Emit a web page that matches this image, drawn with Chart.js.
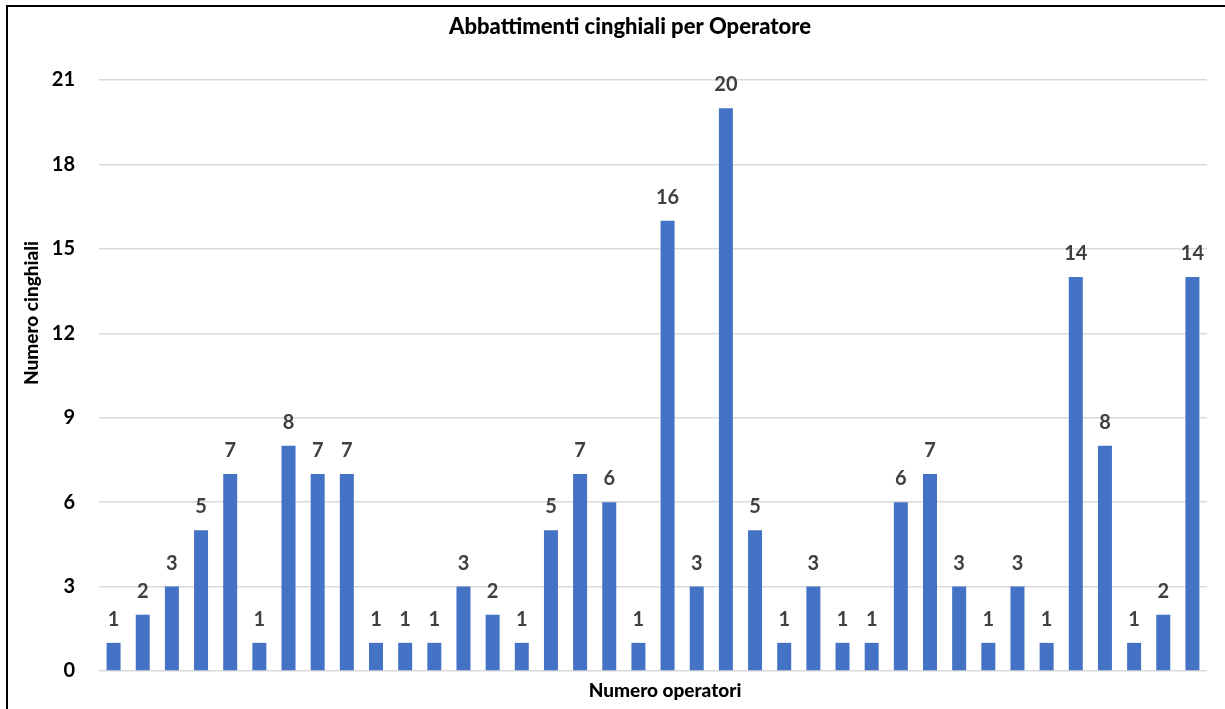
<!DOCTYPE html>
<html lang="it">
<head>
<meta charset="utf-8">
<title>Abbattimenti cinghiali per Operatore</title>
<script src="https://cdn.jsdelivr.net/npm/chart.js@4/dist/chart.umd.min.js"></script>
<style>
  html, body { margin: 0; padding: 0; background: #fff; }
  .wrap { position: relative; width: 1225px; height: 709px; }
  .frame {
    position: absolute; left: 6px; top: 5px; right: 0; bottom: 0;
    border-left: 2px solid #000; border-top: 2px solid #000;
    pointer-events: none;
  }
</style>
</head>
<body>
<div class="wrap">
  <canvas id="chart" width="1225" height="709"></canvas>
  <div class="frame"></div>
</div>
<script>
const chartTitle = 'Abbattimenti cinghiali per Operatore'
const xTitle = 'Numero operatori'
const yTitle = 'Numero cinghiali'

const operatori = [
  '1', '2', '3', '4', '5', '6', '7', '8', '9', '10',
  '11', '12', '13', '14', '15', '16', '17', '18', '19', '20',
  '21', '22', '23', '24', '25', '26', '27', '28', '29', '30',
  '31', '32', '33', '34', '35', '36', '37', '38'
]
const abbattimenti = [
  1, 2, 3, 5, 7, 1, 8, 7, 7, 1,
  1, 1, 3, 2, 1, 5, 7, 6, 1, 16,
  3, 20, 5, 1, 3, 1, 1, 6, 7, 3,
  1, 3, 1, 14, 8, 1, 2, 14
]
const yMax = 21
const yStep = 3

const FONT = 'Lato, "Open Sans", sans-serif'

// values above the bars, Excel style
const barLabels = {
  id: 'barLabels',
  afterDatasetsDraw(chart) {
    const { ctx } = chart
    const meta = chart.getDatasetMeta(0)
    ctx.save()
    ctx.font = `bold 20px ${FONT}`
    ctx.fillStyle = '#404040'
    ctx.textAlign = 'center'
    ctx.textBaseline = 'alphabetic'
    meta.data.forEach((bar, i) => {
      ctx.fillText(String(abbattimenti[i]), bar.x, bar.y - 17)
    })
    ctx.restore()
  }
}

// chart title and axis titles, placed like the original sheet
const titles = {
  id: 'titles',
  afterDraw(chart) {
    const { ctx } = chart
    ctx.save()
    ctx.fillStyle = '#000'
    ctx.textAlign = 'center'
    ctx.textBaseline = 'alphabetic'

    ctx.font = `900 22px ${FONT}`
    ctx.fillText(chartTitle, 630, 34)

    ctx.font = `900 19px ${FONT}`
    ctx.fillText(xTitle, 665, 697)

    ctx.translate(38, 313)
    ctx.rotate(-Math.PI / 2)
    ctx.fillText(yTitle, 0, 0)
    ctx.restore()
  }
}

new Chart(document.getElementById('chart'), {
  type: 'bar',
  data: {
    labels: operatori,
    datasets: [{
      label: yTitle,
      data: abbattimenti,
      backgroundColor: '#4472C4',
      borderWidth: 0,
      categoryPercentage: 1,
      barPercentage: 0.48
    }]
  },
  options: {
    responsive: false,
    animation: false,
    layout: { padding: { top: 80, right: 18, bottom: 30, left: 0 } },
    plugins: {
      legend: { display: false },
      tooltip: { enabled: false }
    },
    scales: {
      x: {
        grid: { display: false },
        border: { display: false },
        ticks: { display: false }
      },
      y: {
        min: 0,
        max: yMax,
        afterFit: (scale) => { scale.width = 99 },
        ticks: {
          stepSize: yStep,
          padding: 24,
          color: '#000',
          font: { family: FONT, size: 20, weight: 'bold' }
        },
        grid: { color: '#d9d9d9', lineWidth: 1.5, drawTicks: false },
        border: { display: false }
      }
    }
  },
  plugins: [barLabels, titles]
})
</script>
</body>
</html>
